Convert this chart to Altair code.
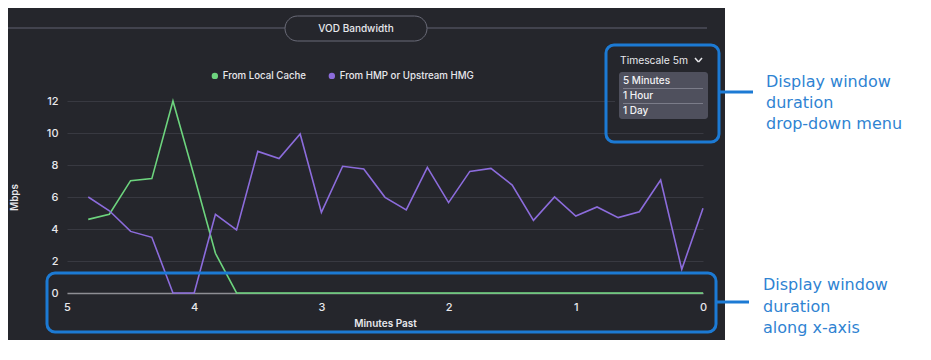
import altair as alt
import pandas as pd

# ---------------- data ----------------
minutes_past = [4.833, 4.667, 4.5, 4.333, 4.167, 4.0, 3.833, 3.667, 3.5, 3.333,
                3.167, 3.0, 2.833, 2.667, 2.5, 2.333, 2.167, 2.0, 1.833, 1.667,
                1.5, 1.333, 1.167, 1.0, 0.833, 0.667, 0.5, 0.333, 0.167, 0.0]
local_cache = [4.6, 4.92, 7.02, 7.15, 12.0, 7.3, 2.48, 0, 0, 0,
               0, 0, 0, 0, 0, 0, 0, 0, 0, 0,
               0, 0, 0, 0, 0, 0, 0, 0, 0, 0]
upstream = [6.0, 5.14, 3.85, 3.48, 0, 0, 4.92, 3.94, 8.85, 8.4,
            9.94, 5.04, 7.92, 7.75, 5.98, 5.19, 7.85, 5.65, 7.6, 7.79,
            6.75, 4.54, 6.0, 4.81, 5.38, 4.71, 5.08, 7.06, 1.48, 5.29]
series_names = ["From Local Cache", "From HMP or Upstream HMG"]
x_ticks = [5, 4, 3, 2, 1, 0]
y_ticks = [0, 2, 4, 6, 8, 10, 12]
chart_title = "VOD Bandwidth"
timescale_label = "Timescale 5m"
menu_items = ["5 Minutes", "1 Hour", "1 Day"]
note_menu = ["Display window", "duration", "drop-down menu"]
note_axis = ["Display window", "duration", "along x-axis"]

# ---------------- style ----------------
BG = "#25262c"
GRID = "#383941"
GREEN = "#6dd47e"
PURPLE = "#8c6cdc"
BLUE = "#1c7ad4"
NOTE = "#2f83d2"
TXT = "#e8e8ec"
FONT = "Inter"

W, H = 636, 192
PAD = {"left": 59, "top": 93, "right": 220, "bottom": 55}

rows = []
for m, a, b in zip(minutes_past, local_cache, upstream):
    rows.append({"minutes": m, "mbps": a, "series": series_names[0]})
    rows.append({"minutes": m, "mbps": b, "series": series_names[1]})
df = pd.DataFrame(rows)
one = pd.DataFrame({"k": [0]})


def rect(x, x2, y, y2, **kw):
    return alt.Chart(one).mark_rect(**kw).encode(
        x=alt.value(x), x2=alt.value(x2), y=alt.value(y), y2=alt.value(y2))


def rule(x, x2, y, y2, **kw):
    return alt.Chart(one).mark_rule(**kw).encode(
        x=alt.value(x), x2=alt.value(x2), y=alt.value(y), y2=alt.value(y2))


def text(t, x, y, **kw):
    return alt.Chart(one).mark_text(text=t, **kw).encode(
        x=alt.value(x), y=alt.value(y))


lines = alt.Chart(df).mark_line(strokeWidth=1.6).encode(
    x=alt.X("minutes:Q",
            scale=alt.Scale(domain=[5, 0], nice=False, zero=False),
            axis=alt.Axis(values=x_ticks, format="d", title="Minutes Past",
                          grid=False, ticks=False, domainColor="#8e8e94",
                          domainWidth=1.5, labelColor=TXT, labelFontSize=11,
                          labelFont=FONT, labelFontWeight=500, labelPadding=8,
                          labelFlush=False, titleColor=TXT, titleFont=FONT,
                          titleFontSize=10, titleFontWeight=600,
                          titlePadding=6)),
    y=alt.Y("mbps:Q",
            scale=alt.Scale(domain=[0, 12], nice=False),
            axis=alt.Axis(values=y_ticks, title="Mbps", grid=True,
                          gridColor=GRID, gridWidth=1, ticks=False,
                          domain=False, labelColor=TXT, labelFontSize=11,
                          labelFont=FONT, labelFontWeight=500, labelPadding=9,
                          titleColor=TXT, titleFont=FONT, titleFontSize=10,
                          titleFontWeight=600, titlePadding=27)),
    color=alt.Color("series:N",
                    scale=alt.Scale(domain=series_names, range=[GREEN, PURPLE]),
                    legend=alt.Legend(orient="none", legendX=143, legendY=-30,
                                      direction="horizontal", title=None,
                                      symbolType="circle", symbolSize=10,
                                      symbolStrokeWidth=3.2, labelColor=TXT,
                                      labelFont=FONT, labelFontSize=9.7,
                                      labelFontWeight=500,
                                      labelOffset=3, columnPadding=16)),
    order=alt.Order("minutes:Q", sort="descending"),
)

layers = [
    # white area on the right / below the dark panel
    rect(658, 870, -100, 270, fill="white"),
    rect(-70, 658, 239, 270, fill="white"),
    # title line and pill
    rule(-61, 640, -73, -73, color="#4d4e5a", strokeWidth=1.5),
    rect(218, 360, -85, -60, fill=BG, stroke="#6a6b78", strokeWidth=1,
         cornerRadius=12.5),
    text(chart_title, 289, -72.5, font=FONT, fontSize=10, fontWeight=500,
         color=TXT, align="center", baseline="middle"),
    lines,
    # dropdown area
    rect(548, 645, -53, 23, fill=BG),
    text(timescale_label, 553, -40, font=FONT, fontSize=10.3, fontWeight=400,
         color=TXT, align="left", baseline="middle"),
    rule(628, 631.5, -43, -39, color=TXT, strokeWidth=1.5),
    rule(631.5, 635, -39, -43, color=TXT, strokeWidth=1.5),
    rect(552, 641, -29, 18, fill="#4f505d", cornerRadius=3),
    rule(556, 636, -12.5, -12.5, color="#7b7c89", strokeWidth=1),
    rule(556, 636, 2.5, 2.5, color="#7b7c89", strokeWidth=1),
]
for item, yy in zip(menu_items, [-20, -5, 10]):
    layers.append(text(item, 556, yy, font=FONT, fontSize=10, fontWeight=500,
                       color="#f2f2f4", align="left", baseline="middle"))

layers += [
    # callout boxes
    rect(539, 652, -56, 41, fillOpacity=0, stroke=BLUE,
         strokeWidth=3, cornerRadius=8),
    rule(652, 686, -9, -9, color=BLUE, strokeWidth=3),
    rect(-20, 649, 172, 231, fillOpacity=0, stroke=BLUE, strokeWidth=3,
         cornerRadius=8),
    rule(649, 682, 201, 201, color=BLUE, strokeWidth=3),
    text(note_menu, 699, -14.3, font="DejaVu Sans", fontSize=16, color=NOTE,
         align="left", baseline="alphabetic", lineHeight=21),
    text(note_axis, 696, 189, font="DejaVu Sans", fontSize=16, color=NOTE,
         align="left", baseline="alphabetic", lineHeight=21.5),
]

chart = alt.layer(*layers).properties(
    width=W, height=H, background=BG, padding=PAD,
    autosize=alt.AutoSizeParams(type="none"),
).configure_view(stroke=None)

chart.save("out.html", embed_options={"renderer": "svg", "actions": False})
